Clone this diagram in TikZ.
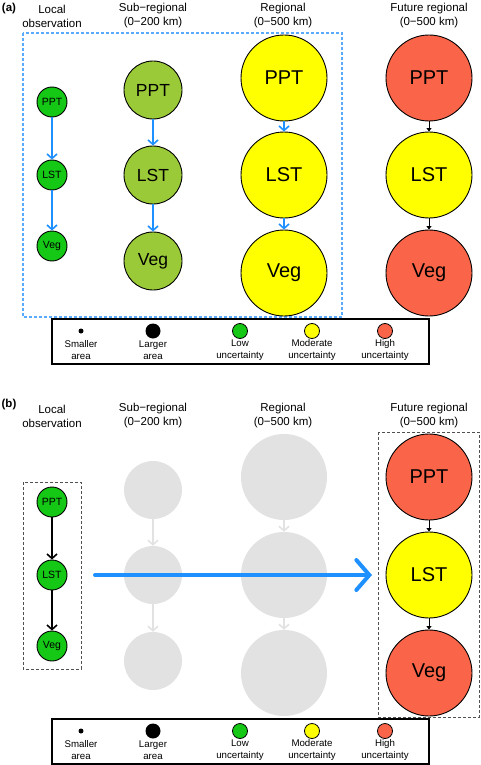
\documentclass[tikz,border=0pt]{standalone}
\usepackage{fontspec}
\setmainfont{Liberation Sans}
\usetikzlibrary{arrows.meta}
\definecolor{lowgreen}{RGB}{22,200,22}
\definecolor{subgreen}{RGB}{154,202,56}
\definecolor{modyellow}{RGB}{255,255,0}
\definecolor{highred}{RGB}{250,100,72}
\definecolor{ghost}{RGB}{226,226,226}
\definecolor{arrowblue}{RGB}{30,144,255}
\definecolor{boxblue}{RGB}{90,170,255}
\definecolor{boxgray}{RGB}{80,80,80}
\tikzset{
  bub/.style={circle, draw=black, line width=0.9pt, inner sep=0pt, text=black},
  loc/.style={bub, fill=lowgreen, minimum size=30pt, font=\fontsize{10.5}{10.5}\selectfont},
  sub/.style={bub, fill=subgreen, minimum size=58pt, font=\fontsize{17.5}{18}\selectfont},
  reg/.style={bub, minimum size=86pt, font=\fontsize{20}{20}\selectfont},
  gsub/.style={circle, fill=ghost, inner sep=0pt, minimum size=58pt},
  greg/.style={circle, fill=ghost, inner sep=0pt, minimum size=86pt},
  title/.style={align=center, font=\fontsize{11.5}{14}\selectfont},
  panel/.style={font=\bfseries\fontsize{11.5}{13}\selectfont},
  bluearr/.style={draw=arrowblue, line width=1.6pt, -{Straight Barb[length=4.5pt,width=10pt]}},
  blackarr/.style={draw=black, line width=1.6pt, -{Straight Barb[length=4.5pt,width=10pt]}},
  smallblk/.style={draw=black, line width=1pt, -{Triangle[length=3.5pt,width=5pt]}},
  grayarr/.style={draw=ghost, line width=1.6pt, -{Straight Barb[length=4.5pt,width=10pt]}},
  legbox/.style={draw=black, line width=1.2pt},
  legtxt/.style={align=center, font=\fontsize{9.7}{11.8}\selectfont},
  legdot/.style={circle, draw=black, line width=0.8pt, inner sep=0pt, minimum size=15pt},
}
\begin{document}
\begin{tikzpicture}[x=1pt,y=-1pt]
\useasboundingbox (0,0) rectangle (480,765);
% ---------------- panel (a) ----------------
\node[panel] (pa) at (9,9) {(a)};
\node[title] (ta1) at (52,16) {Local\\observation};
\node[title] (ta2) at (153,16) {Sub\char"2212 regional\\(0\char"2212 200 km)};
\node[title] (ta3) at (283,16) {Regional\\(0\char"2212 500 km)};
\node[title] (ta4) at (429,16) {Future regional\\(0\char"2212 500 km)};
\draw[draw=boxblue, line width=1.2pt, dash pattern=on 3pt off 2pt] (23,33) rectangle (342,317);
% local
\node[loc] (aL1) at (52,102) {PPT};
\node[loc] (aL2) at (52,175) {LST};
\node[loc] (aL3) at (52,246) {Veg};
\draw[bluearr] (aL1) -- (aL2);
\draw[bluearr] (aL2) -- (aL3);
% sub-regional
\node[sub] (aS1) at (153,90) {PPT};
\node[sub] (aS2) at (153,175) {LST};
\node[sub] (aS3) at (153,261) {Veg};
\draw[bluearr] (aS1) -- (aS2);
\draw[bluearr] (aS2) -- (aS3);
% regional
\node[reg, fill=modyellow] (aR1) at (284,78) {PPT};
\node[reg, fill=modyellow] (aR2) at (284,175) {LST};
\node[reg, fill=modyellow] (aR3) at (284,273) {Veg};
\draw[bluearr] (aR1) -- (aR2);
\draw[bluearr] (aR2) -- (aR3);
% future
\node[reg, fill=highred] (aF1) at (429,78) {PPT};
\node[reg, fill=modyellow] (aF2) at (429,175) {LST};
\node[reg, fill=highred] (aF3) at (429,273) {Veg};
\draw[smallblk] (aF1) -- (aF2);
\draw[smallblk] (aF2) -- (aF3);
% legend a
\draw[legbox] (52,319) rectangle (429,364);
\node[circle, fill=black, inner sep=0pt, minimum size=5pt] (la1) at (81,331) {};
\node[circle, fill=black, inner sep=0pt, minimum size=15pt] (la2) at (153,331) {};
\node[legdot, fill=lowgreen] (la3) at (240,331) {};
\node[legdot, fill=modyellow] (la4) at (312,331) {};
\node[legdot, fill=highred] (la5) at (385,331) {};
\node[legtxt] (lta1) at (81,350) {Smaller\\area};
\node[legtxt] (lta2) at (153,350) {Larger\\area};
\node[legtxt] (lta3) at (240,350) {Low\\uncertainty};
\node[legtxt] (lta4) at (312,350) {Moderate\\uncertainty};
\node[legtxt] (lta5) at (385,350) {High\\uncertainty};
% ---------------- panel (b) ----------------
\node[panel] (pb) at (9,405) {(b)};
\node[title] (tb1) at (52,416) {Local\\observation};
\node[title] (tb2) at (153,416) {Sub\char"2212 regional\\(0\char"2212 200 km)};
\node[title] (tb3) at (283,416) {Regional\\(0\char"2212 500 km)};
\node[title] (tb4) at (429,416) {Future regional\\(0\char"2212 500 km)};
% ghost circles
\node[gsub] (bS1) at (153,490) {};
\node[gsub] (bS2) at (153,575) {};
\node[gsub] (bS3) at (153,661) {};
\draw[grayarr] (bS1) -- (bS2);
\draw[grayarr] (bS2) -- (bS3);
\node[greg] (bR1) at (284,477) {};
\node[greg] (bR2) at (284,575) {};
\node[greg] (bR3) at (284,673) {};
\draw[grayarr] (bR1) -- (bR2);
\draw[grayarr] (bR2) -- (bR3);
% local
\draw[draw=boxgray, line width=1pt, dash pattern=on 3pt off 2pt] (23,482) rectangle (81,669);
\node[loc] (bL1) at (52,502) {PPT};
\node[loc] (bL2) at (52,575) {LST};
\node[loc] (bL3) at (52,646) {Veg};
\draw[blackarr] (bL1) -- (bL2);
\draw[blackarr] (bL2) -- (bL3);
% future
\draw[draw=boxgray, line width=1pt, dash pattern=on 3pt off 2pt] (378,432) rectangle (479,717);
\node[reg, fill=highred] (bF1) at (429,477) {PPT};
\node[reg, fill=modyellow] (bF2) at (429,575) {LST};
\node[reg, fill=highred] (bF3) at (429,673) {Veg};
\draw[smallblk] (bF1) -- (bF2);
\draw[smallblk] (bF2) -- (bF3);
% big arrow
\coordinate (bigS) at (95,575);
\coordinate (bigE) at (372,575);
\draw[draw=arrowblue, line width=4pt, line cap=round, -{Straight Barb[length=13pt,width=30pt,line cap=round]}] (bigS) -- (bigE);
% legend b
\draw[legbox] (52,719) rectangle (429,764);
\node[circle, fill=black, inner sep=0pt, minimum size=5pt] (lb1) at (81,731) {};
\node[circle, fill=black, inner sep=0pt, minimum size=15pt] (lb2) at (153,731) {};
\node[legdot, fill=lowgreen] (lb3) at (240,731) {};
\node[legdot, fill=modyellow] (lb4) at (312,731) {};
\node[legdot, fill=highred] (lb5) at (385,731) {};
\node[legtxt] (ltb1) at (81,750) {Smaller\\area};
\node[legtxt] (ltb2) at (153,750) {Larger\\area};
\node[legtxt] (ltb3) at (240,750) {Low\\uncertainty};
\node[legtxt] (ltb4) at (312,750) {Moderate\\uncertainty};
\node[legtxt] (ltb5) at (385,750) {High\\uncertainty};
\end{tikzpicture}
\end{document}
